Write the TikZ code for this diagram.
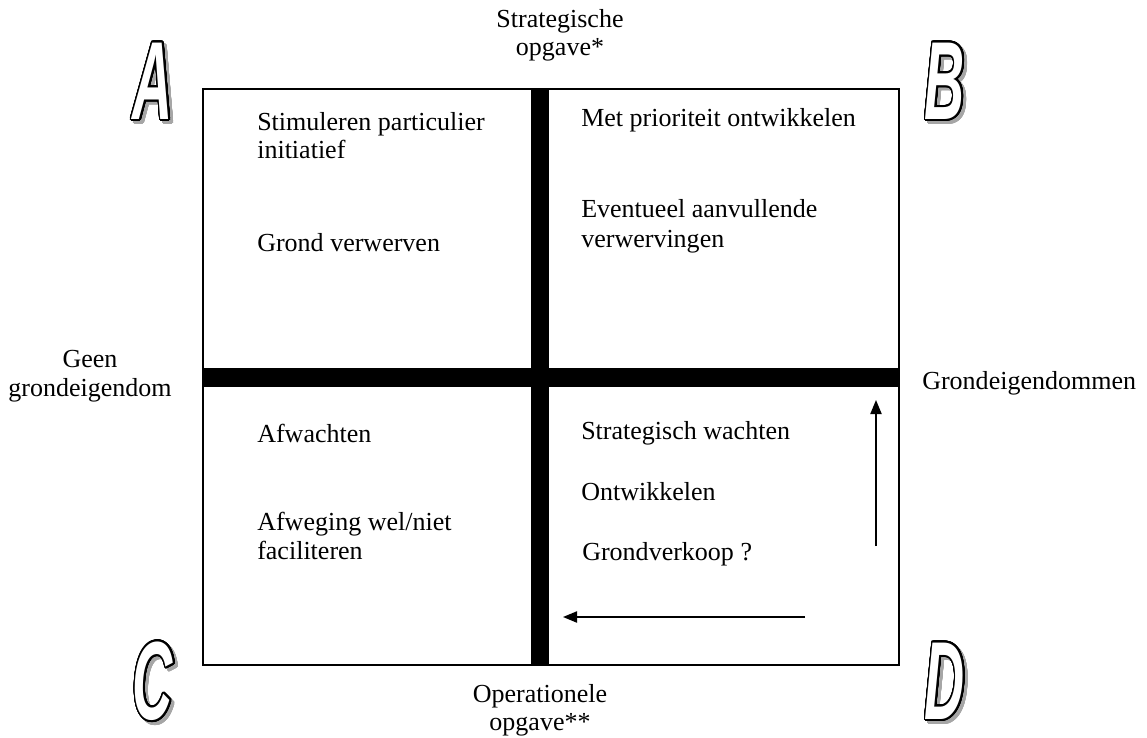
\documentclass[tikz,border=0pt]{standalone}
\usepackage{fontspec}
\setmainfont{Liberation Serif}
\newfontfamily\letterfont{Liberation Sans}
\usepackage[copies]{contour}
\usepackage{tikz}
\usetikzlibrary{positioning}
\usetikzlibrary{arrows.meta}
\contourlength{1.3pt}
\contournumber{32}
\newcommand{\bigletter}[1]{\letterfont\bfseries\itshape\fontsize{79}{79}\selectfont\scalebox{0.5}[1]{#1}}

\begin{document}
\begin{tikzpicture}[x=0.025cm, y=-0.025cm,
  lbl/.style={font=\fontsize{18.5}{20}\selectfont, inner sep=0pt},
  corner/.style={inner sep=0pt, text=white},
  shade/.style={inner sep=0pt, text=black!35},
  bar/.style={fill=black},
  pijl/.style={-{Triangle[length=10pt, width=8pt]}, line width=1pt}]
  \useasboundingbox (0,0) rectangle (1147,738);
  % matrix
  \draw[line width=1.3pt] (203,89) rectangle (899,665);
  \fill[bar] (531,89) rectangle (549,665);
  \fill[bar] (203,368) rectangle (899,387);
  % axis labels
  \node (strat1) [lbl, anchor=base] at (560,27) {Strategische};
  \node (strat2) [lbl, anchor=base] at (560,55) {opgave*};
  \node (oper1) [lbl, anchor=base] at (540,702) {Operationele};
  \node (oper2) [lbl, anchor=base] at (540,730) {opgave**};
  \node (geen1) [lbl, anchor=base] at (90,367) {Geen};
  \node (geen2) [lbl, anchor=base] at (90,396) {grondeigendom};
  \node (eigen) [lbl, anchor=base west] at (922,389) {Grondeigendommen};
  % quadrant A
  \node (stim1) [lbl, anchor=base west] at (257,130) {Stimuleren particulier};
  \node (stim2) [lbl, anchor=base west] at (257,158) {initiatief};
  \node (verw) [lbl, anchor=base west] at (257,251) {Grond verwerven};
  % quadrant B
  \node (prio) [lbl, anchor=base west] at (581,126) {Met prioriteit ontwikkelen};
  \node (event1) [lbl, anchor=base west] at (581,217) {Eventueel aanvullende};
  \node (event2) [lbl, anchor=base west] at (581,247) {verwervingen};
  % quadrant C
  \node (afw) [lbl, anchor=base west] at (257,442) {Afwachten};
  \node (afweg1) [lbl, anchor=base west] at (257,530) {Afweging wel/niet};
  \node (afweg2) [lbl, anchor=base west] at (257,559) {faciliteren};
  % quadrant D
  \node (wacht) [lbl, anchor=base west] at (581,439) {Strategisch wachten};
  \node (ontw) [lbl, anchor=base west] at (581,500) {Ontwikkelen};
  \node (verk) [lbl, anchor=base west] at (582,560) {Grondverkoop ?};
  % arrows
  \coordinate (upA) at (876,546);
  \coordinate (upB) at (876,400);
  \coordinate (leftA) at (805,617);
  \coordinate (leftB) at (563,617);
  \draw[pijl] (upA) -- (upB);
  \draw[pijl] (leftA) -- (leftB);
  % corner letters
  \node (shadowA) [shade] at (156,85) {\contour{black!35}{\bigletter{A}}};
  \node (letterA) [corner] at (153,82) {\contour{black}{\bigletter{A}}};
  \node (shadowB) [shade] at (948,85) {\contour{black!35}{\bigletter{B}}};
  \node (letterB) [corner] at (945,82) {\contour{black}{\bigletter{B}}};
  \node (shadowC) [shade] at (156,685) {\contour{black!35}{\bigletter{C}}};
  \node (letterC) [corner] at (153,682) {\contour{black}{\bigletter{C}}};
  \node (shadowD) [shade] at (948,685) {\contour{black!35}{\bigletter{D}}};
  \node (letterD) [corner] at (945,682) {\contour{black}{\bigletter{D}}};
\end{tikzpicture}
\end{document}
